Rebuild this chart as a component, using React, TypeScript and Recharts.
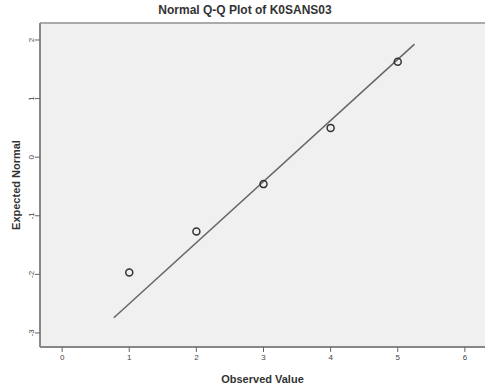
import {
  CartesianGrid,
  ComposedChart,
  Label,
  ReferenceLine,
  Scatter,
  XAxis,
  YAxis,
} from "recharts";

// observed values and their expected normal quantiles
const observed = [1, 2, 3, 4, 5];
const expectedNormal = [-1.97, -1.27, -0.46, 0.5, 1.63];

// ends of the reference line
const lineX = [0.77, 5.25];
const lineY = [-2.74, 1.93];

const xTicks = [0, 1, 2, 3, 4, 5, 6];
const yTicks = [-3, -2, -1, 0, 1, 2];

const points = observed.map((x, i) => ({ x, y: expectedNormal[i] }));
const linePoints = lineX.map((x, i) => ({ x, y: lineY[i] }));

const font = "'Liberation Sans', Arial, sans-serif";

function YTick(props: any) {
  const { x, y, payload } = props;
  return (
    <text
      x={x}
      y={y}
      transform={`rotate(-90 ${x} ${y})`}
      textAnchor="middle"
      fontSize={8}
      fontFamily={font}
      fill="#444"
    >
      {payload.value}
    </text>
  );
}

export default function App() {
  return (
    <div
      style={{
        position: "fixed",
        left: 0,
        top: 0,
        width: 485,
        height: 389,
        background: "#fff",
      }}
    >
      <div
        style={{
          position: "absolute",
          left: 0,
          top: 3,
          width: 490,
          textAlign: "center",
          fontFamily: font,
          fontWeight: "bold",
          fontSize: 12,
          color: "#333",
        }}
      >
        Normal Q-Q Plot of K0SANS03
      </div>
      <ComposedChart
        width={485}
        height={389}
        margin={{ top: 23, right: 0, bottom: 0, left: 0 }}
      >
        <CartesianGrid
          horizontal={false}
          vertical={false}
          fill="#f0f0f0"
        />
        <XAxis
          type="number"
          dataKey="x"
          domain={[-0.33, 6.3]}
          ticks={xTicks}
          allowDataOverflow
          height={42}
          tickSize={5}
          tickMargin={2}
          axisLine={{ stroke: "#888", strokeWidth: 2 }}
          tickLine={{ stroke: "#666" }}
          tick={{ fontSize: 8, fill: "#444", fontFamily: font }}
        >
          <Label
            value="Observed Value"
            position="insideBottom"
            offset={6}
            fontSize={11}
            fontWeight="bold"
            fontFamily={font}
            fill="#333"
          />
        </XAxis>
        <YAxis
          type="number"
          dataKey="y"
          domain={[-3.24, 2.29]}
          ticks={yTicks}
          allowDataOverflow
          width={40}
          tickSize={5}
          tickMargin={1}
          axisLine={{ stroke: "#888", strokeWidth: 2 }}
          tickLine={{ stroke: "#666" }}
          tick={<YTick />}
        >
          <Label
            value="Expected Normal"
            position="center"
            angle={-90}
            dx={-4}
            fontSize={11}
            fontWeight="bold"
            fontFamily={font}
            fill="#333"
          />
        </YAxis>
        <ReferenceLine y={2.29} stroke="#aaa" strokeWidth={2} />
        <Scatter
          data={linePoints}
          line={{ stroke: "#666", strokeWidth: 1.5 }}
          shape={() => <g />}
          isAnimationActive={false}
        />
        <Scatter
          data={points}
          fill="none"
          shape={(p: any) => (
            <circle
              cx={p.cx}
              cy={p.cy}
              r={3.5}
              fill="none"
              stroke="#333"
              strokeWidth={1.5}
            />
          )}
          isAnimationActive={false}
        />
      </ComposedChart>
    </div>
  );
}
